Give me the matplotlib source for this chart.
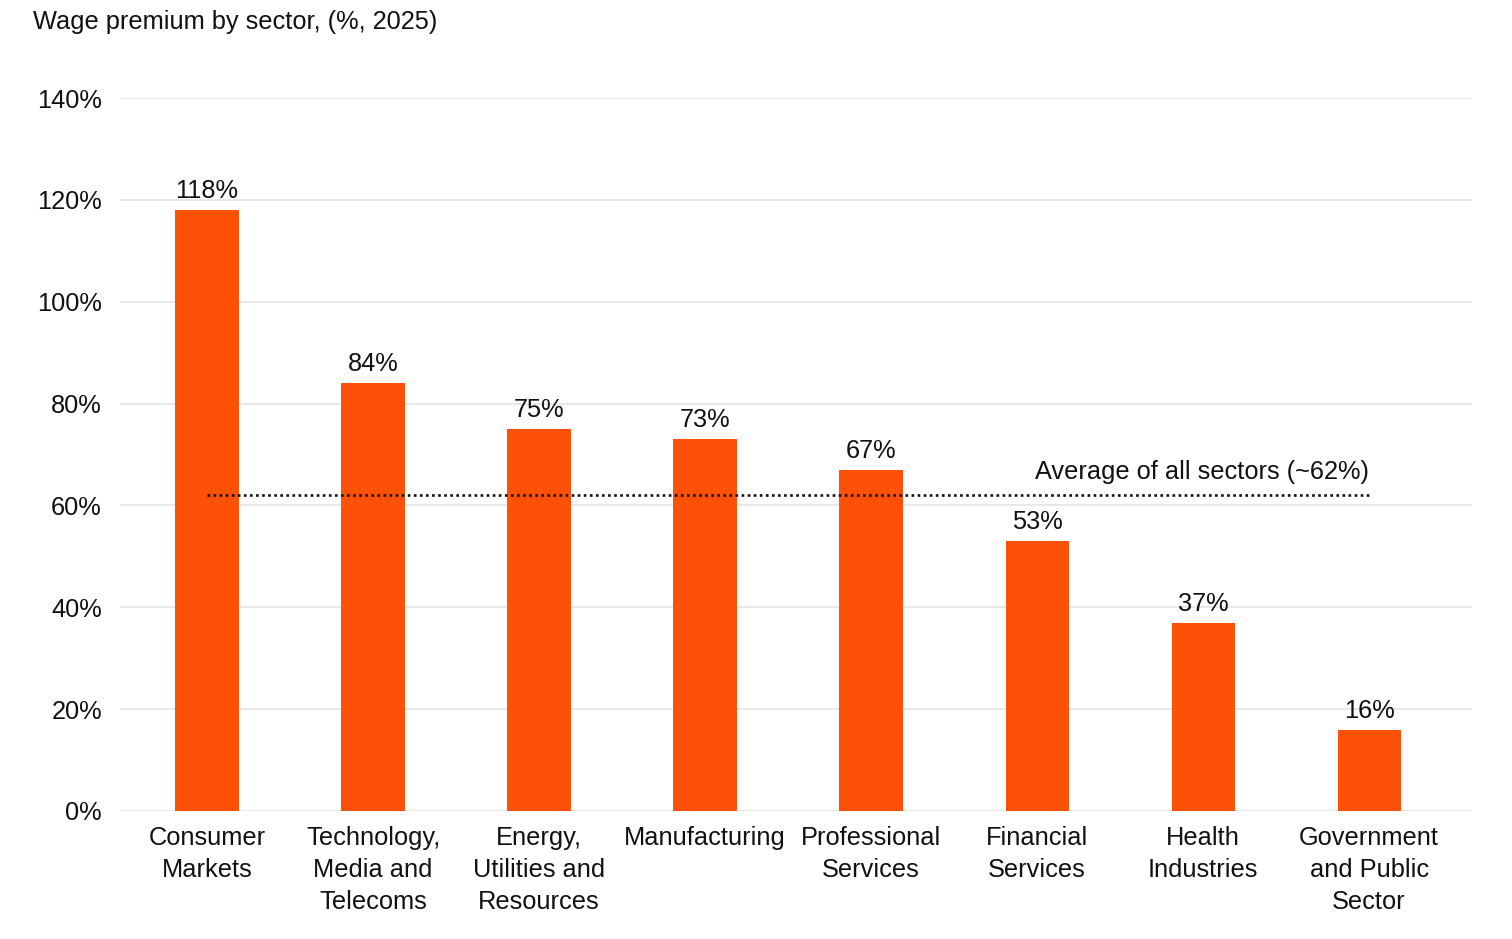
import matplotlib
matplotlib.use("Agg")
import matplotlib.pyplot as plt

plt.rcParams['font.family'] = ['Liberation Sans', 'DejaVu Sans']

sectors = ["Consumer\nMarkets", "Technology,\nMedia and\nTelecoms", "Energy,\nUtilities and\nResources",
           "Manufacturing", "Professional\nServices", "Financial\nServices", "Health\nIndustries",
           "Government\nand Public\nSector"]
premium = [118, 84, 75, 73, 67, 53, 37, 16]
labels = ["118%", "84%", "75%", "73%", "67%", "53%", "37%", "16%"]
average = 62
avg_label = "Average of all sectors (~62%)"
yticks = [0, 20, 40, 60, 80, 100, 120, 140]
title = "Wage premium by sector, (%, 2025)"

FS = 18.3
W, H = 1512, 939
fig = plt.figure(figsize=(W/100, H/100), dpi=100)
ax = fig.add_axes([120/W, 1-811/H, (1472-120)/W, (811-98)/H])

x = list(range(len(sectors)))
ax.bar(x, premium, width=0.38, color="#FD5108", zorder=3)
for xi, v, lab in zip(x, premium, labels):
    ax.annotate(lab, (xi, v), xytext=(0, 5), textcoords="offset points",
                ha="center", va="bottom", fontsize=FS, color="#111111")

ax.plot([x[0], x[-1]], [average, average], linestyle=(0, (1, 1.3)), color="#111111",
        linewidth=1.9, zorder=4)
ax.annotate(avg_label, (x[-1], average), xytext=(0, 8), textcoords="offset points",
            ha="right", va="bottom", fontsize=FS, color="#111111")

ax.set_xlim(-0.524, 7.62)
ax.set_ylim(0, 140)
ax.set_yticks(yticks)
ax.set_yticklabels([f"{t}%" for t in yticks])
ax.set_xticks(x)
ax.set_xticklabels(sectors, linespacing=1.42)
ax.tick_params(axis="both", length=0, labelsize=FS, colors="#111111")
ax.tick_params(axis="y", pad=13)
ax.tick_params(axis="x", pad=11)
ax.grid(axis="y", color="#E6E6E6", linewidth=1.3, zorder=0)
for s in ax.spines.values():
    s.set_visible(False)

fig.text(33/W, 1-22/H, title, ha="left", va="center", fontsize=FS, color="#111111")

fig.savefig("out.png", dpi=100, facecolor="white")
